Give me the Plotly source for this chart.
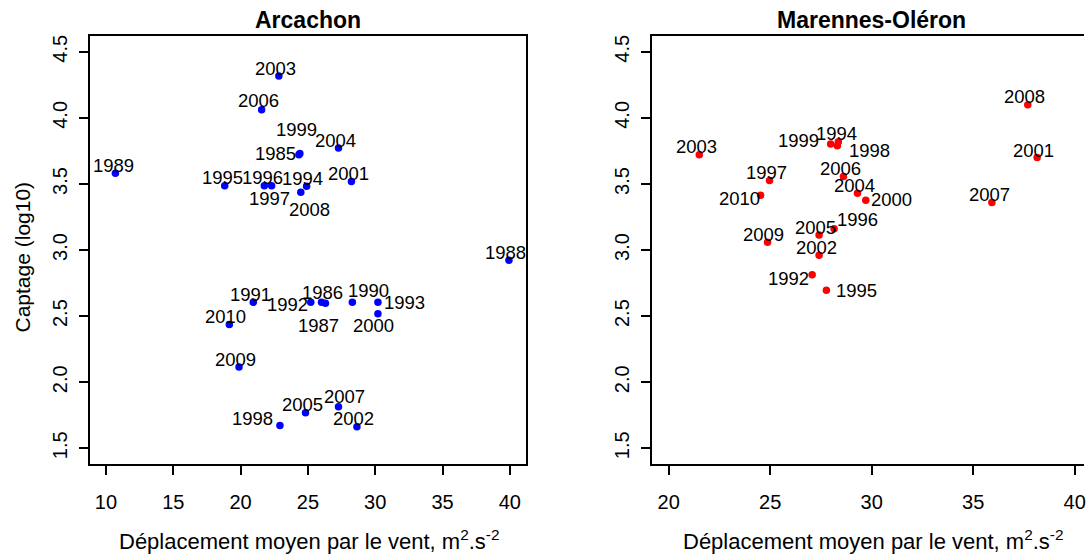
import plotly.graph_objects as go

# ---- Arcachon: mean wind displacement vs spat capture (log10) ----
years_arc = [1985, 1986, 1987, 1988, 1989, 1990, 1991, 1992, 1993, 1994, 1995, 1996, 1997,
             1998, 1999, 2000, 2001, 2002, 2003, 2004, 2005, 2006, 2007, 2008, 2009, 2010]
wind_arc = [24.33, 26.01, 26.30, 39.93, 10.70, 28.30, 20.94, 25.21, 30.20, 24.90, 18.82, 21.76, 22.30,
            22.92, 24.40, 30.20, 28.23, 28.64, 22.84, 27.27, 24.82, 21.56, 27.27, 24.47, 19.88, 19.16]
capt_arc = [3.721, 2.605, 2.597, 2.923, 3.581, 2.605, 2.605, 2.605, 2.605, 3.483, 3.486, 3.486, 3.486,
            1.673, 3.730, 2.519, 3.518, 1.663, 4.316, 3.772, 1.769, 4.062, 1.814, 3.438, 2.115, 2.436]

# ---- Marennes-Oléron ----
years_mo = [1992, 1994, 1995, 1996, 1997, 1998, 1999, 2000, 2001,
            2002, 2003, 2004, 2005, 2006, 2007, 2008, 2009, 2010]
wind_mo = [27.07, 28.36, 27.77, 28.15, 24.97, 28.31, 27.98, 29.71, 38.15,
           27.41, 21.51, 29.30, 27.41, 28.61, 35.92, 37.69, 24.87, 24.53]
capt_mo = [2.813, 3.819, 2.695, 3.162, 3.526, 3.789, 3.802, 3.377, 3.701,
           2.961, 3.721, 3.430, 3.114, 3.556, 3.360, 4.100, 3.059, 3.415]

# label placement around each point, in pixels (right, down)
lab_arc = {1985: (-23, -1), 1986: (1, -10), 1987: (-7, 22), 1988: (-3, -8), 1989: (-2, -8),
           1990: (16, -12), 1991: (-3, -8), 1992: (-23, 2), 1993: (27, 0), 1994: (-4, -8),
           1995: (-2, -8), 1996: (-2, -8), 1997: (-2, 13), 1998: (-27, -7), 1999: (-3, -24),
           2000: (-4, 12), 2001: (-3, -8), 2002: (-3, -8), 2003: (-3, -8), 2004: (-3, -8),
           2005: (-3, -8), 2006: (-3, -9), 2007: (6, -10), 2008: (9, 17), 2009: (-4, -8),
           2010: (-4, -8)}
lab_mo = {1992: (-24, 4), 1994: (-2, -8), 1995: (30, 0), 1996: (23, -9), 1997: (-3, -8),
          1998: (32, 5), 1999: (-32, -4), 2000: (26, -1), 2001: (-4, -7), 2002: (-3, -8),
          2003: (-3, -8), 2004: (-3, -8), 2005: (-4, -7), 2006: (-3, -8), 2007: (-2, -8),
          2008: (-3, -8), 2009: (-4, -8), 2010: (-21, 3)}

x_ticks_arc = [10, 15, 20, 25, 30, 35, 40]
x_ticks_mo = [20, 25, 30, 35, 40]
y_ticks = [1.5, 2.0, 2.5, 3.0, 3.5, 4.0, 4.5]
y_tick_text = ["1.5", "2.0", "2.5", "3.0", "3.5", "4.0", "4.5"]

W, H = 1086, 556
FONT = "Liberation Sans, Arial, Helvetica, sans-serif"

# plot boxes in pixels
L1, R1 = 90, 527
L2 = 653.6
TOP, BOT = 35, 464
px_per_unit_mo = 20.34

def px(v):
    return v / W

def py(v):
    return 1 - v / H

fig = go.Figure()

fig.add_trace(go.Scatter(x=wind_arc, y=capt_arc, mode="markers",
                         marker=dict(color="#0000FF", size=7.5, line=dict(width=0)),
                         xaxis="x", yaxis="y", hoverinfo="skip", showlegend=False))
fig.add_trace(go.Scatter(x=wind_mo, y=capt_mo, mode="markers",
                         marker=dict(color="#FF0000", size=7.5, line=dict(width=0)),
                         xaxis="x2", yaxis="y2", hoverinfo="skip", showlegend=False))

annotations = []
for yr, xv, yv in zip(years_arc, wind_arc, capt_arc):
    dx, dy = lab_arc[yr]
    annotations.append(dict(x=xv, y=yv, xref="x", yref="y", text=str(yr), showarrow=False,
                            xshift=dx, yshift=-dy, font=dict(family=FONT, size=18.5, color="black")))
for yr, xv, yv in zip(years_mo, wind_mo, capt_mo):
    dx, dy = lab_mo[yr]
    annotations.append(dict(x=xv, y=yv, xref="x2", yref="y2", text=str(yr), showarrow=False,
                            xshift=dx, yshift=-dy, font=dict(family=FONT, size=18.5, color="black")))

# panel titles
box2_right = L2 + (40.8 - 19.2) * px_per_unit_mo
for cx, txt in [((L1 + R1) / 2, "Arcachon"), ((L2 + box2_right) / 2, "Marennes-Oléron")]:
    annotations.append(dict(x=px(cx), y=py(19.5), xref="paper", yref="paper", text=f"<b>{txt}</b>",
                            showarrow=False, xanchor="center", yanchor="middle",
                            font=dict(family=FONT, size=23, color="black")))

# axis titles
xlab = "Déplacement moyen par le vent, m<sup>2</sup>.s<sup>-2</sup>"
for cx in [(L1 + R1) / 2, (L2 + box2_right) / 2]:
    annotations.append(dict(x=px(cx + 2), y=py(540), xref="paper", yref="paper", text=xlab,
                            showarrow=False, xanchor="center", yanchor="middle",
                            font=dict(family=FONT, size=22, color="black")))
annotations.append(dict(x=px(23), y=py(256), xref="paper", yref="paper",
                        text="Captage (log10)", textangle=-90, showarrow=False,
                        xanchor="center", yanchor="middle",
                        font=dict(family=FONT, size=21, color="black")))

axis_common = dict(showgrid=False, zeroline=False, showline=True, linecolor="black", linewidth=2,
                   ticks="outside", ticklen=9, tickwidth=1.5, tickcolor="black",
                   tickfont=dict(family=FONT, size=20, color="black"))

fig.update_layout(
    width=W, height=H,
    margin=dict(l=0, r=0, t=0, b=0),
    paper_bgcolor="white", plot_bgcolor="white",
    xaxis=dict(domain=[px(L1), px(R1)], range=[8.8, 41.2], tickvals=x_ticks_arc,
               mirror=True, anchor="y", ticklabelstandoff=10, **axis_common),
    yaxis=dict(domain=[1 - BOT / H, 1 - TOP / H], range=[1.38, 4.62], tickvals=y_ticks,
               ticktext=y_tick_text, tickangle=-90, mirror=True, anchor="x",
               ticklabelstandoff=4, **axis_common),
    xaxis2=dict(domain=[px(L2), 1.0], range=[19.2, 19.2 + (W - L2) / px_per_unit_mo],
                tickvals=x_ticks_mo, mirror=True, anchor="y2", ticklabelstandoff=10,
                ticklabeloverflow="allow", **axis_common),
    yaxis2=dict(domain=[1 - BOT / H, 1 - TOP / H], range=[1.38, 4.62], tickvals=y_ticks,
                ticktext=y_tick_text, tickangle=-90, mirror=False, anchor="x2",
                ticklabelstandoff=4, **axis_common),
    annotations=annotations,
)

fig.write_html("out.html")
